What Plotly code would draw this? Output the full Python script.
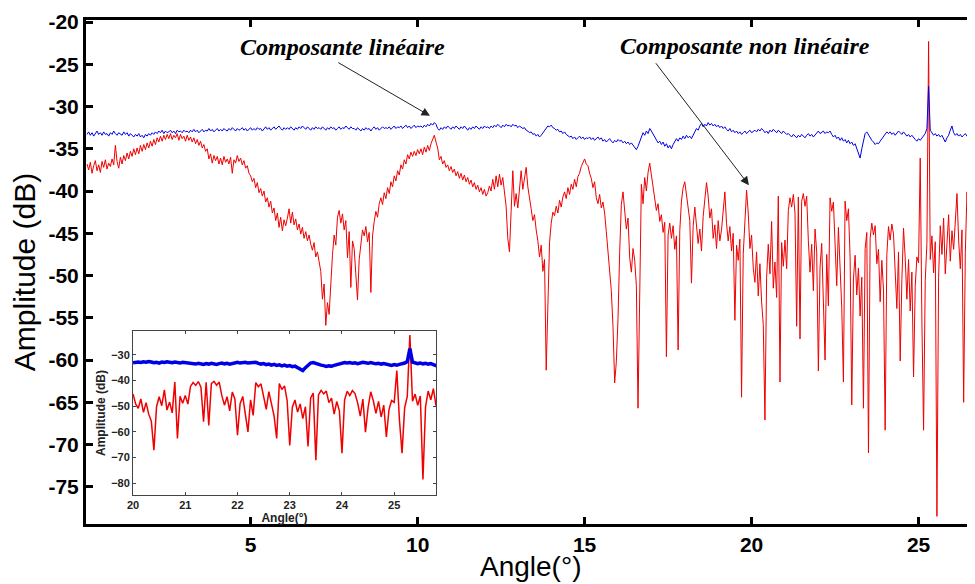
import numpy as np
import plotly.graph_objects as go

# échantillonnage en angle (deg)
angle_start = 0.10
angle_step = 0.05

# composante non linéaire (rouge), une ligne = 1 degré
red_db = [
    -36.8, -37.5, -36.6, -37.9, -37.0, -36.4, -37.6, -36.9, -37.8, -36.5, -37.2, -36.3, -37.4, -36.7, -37.1, -36.2, -36.9, -34.6, -36.5, -37.3,
    -36.0, -36.8, -35.8, -36.4, -35.5, -36.2, -35.3, -35.9, -35.0, -35.7, -34.9, -35.6, -34.6, -35.3, -34.5, -35.1, -34.3, -34.9, -34.1, -34.7,
    -33.9, -34.5, -33.7, -34.2, -33.5, -34.1, -33.4, -33.9, -33.3, -33.8, -33.2, -33.9, -33.4, -33.7, -33.2, -34.0, -33.3, -33.8, -33.5, -34.1,
    -33.4, -34.0, -33.6, -34.2, -33.7, -34.4, -33.9, -34.6, -34.1, -34.9, -34.5, -35.3, -35.0, -36.2, -35.6, -36.7, -35.8, -36.4, -35.9, -36.8,
    -36.1, -36.9, -35.9, -36.6, -36.2, -36.8, -36.0, -37.9, -36.3, -36.7, -35.8, -36.5, -36.1, -36.9, -36.4, -37.3, -37.0, -37.9, -38.2, -38.9,
    -38.5, -39.6, -39.0, -40.2, -39.7, -40.6, -40.0, -41.3, -40.8, -41.9, -41.2, -42.6, -42.0, -43.5, -42.6, -44.3, -43.1, -44.7, -43.4, -44.1,
    -43.2, -42.1, -43.8, -42.5, -44.0, -43.3, -44.6, -43.9, -45.1, -44.3, -45.6, -44.8, -45.9, -45.2, -46.3, -47.0, -46.1, -47.8, -47.2, -48.6,
    -49.5, -52.8, -51.0, -55.9, -53.2, -54.6, -50.3, -47.6, -45.2, -46.4, -43.1, -42.3, -43.8, -42.7, -44.6, -43.5, -47.9, -44.8, -51.4, -45.9,
    -46.8, -49.5, -52.9, -48.1, -45.9, -44.6, -45.3, -44.2, -46.0, -44.9, -52.0, -45.3, -43.6, -42.4, -43.1, -41.5, -40.8, -41.6, -40.2, -40.9,
    -39.6, -40.3, -38.9, -39.5, -38.2, -38.8, -37.6, -38.1, -36.9, -37.4, -36.3, -36.8, -35.7, -36.2, -35.4, -35.9, -35.3, -35.8, -35.1, -35.6,
    -35.0, -35.7, -34.8, -35.4, -34.6, -35.2, -34.4, -33.8, -33.4, -34.2, -34.9, -36.3, -35.9, -36.8, -36.4, -37.2, -36.9, -37.6, -37.1, -37.8,
    -37.4, -38.2, -37.7, -38.5, -37.9, -38.7, -38.1, -38.9, -38.4, -39.2, -38.7, -39.5, -39.0, -39.8, -39.3, -40.1, -39.6, -40.4, -39.8, -40.6,
    -40.2, -39.4, -40.0, -38.6, -39.8, -38.2, -39.5, -38.0, -39.3, -38.4, -40.1, -41.8, -45.6, -47.2, -42.4, -37.6, -41.8, -40.3, -42.0, -39.2,
    -37.6, -39.8, -38.4, -37.2, -39.5, -40.6, -42.1, -43.5, -42.8, -44.6, -45.9, -47.8, -46.4, -49.5, -48.1, -61.2, -52.4, -46.1, -43.8, -42.5,
    -42.9, -41.8, -42.6, -41.1, -41.9, -40.7, -40.1, -40.9, -39.6, -40.4, -39.2, -39.8, -38.6, -39.5, -38.3, -37.9, -37.1, -36.6, -36.2, -36.8,
    -37.0, -37.9, -38.5, -39.6, -38.9, -40.8, -41.5, -40.4, -42.0, -41.3, -42.6, -44.8, -46.9, -49.5, -51.8, -56.0, -62.7, -60.2, -55.1, -47.3,
    -41.6, -40.1, -42.8, -44.5, -43.2, -47.9, -49.6, -46.8, -48.2, -51.2, -65.7, -49.5, -39.2, -41.5, -38.4, -40.0, -37.8, -36.7, -38.1, -39.4,
    -40.8, -42.3, -41.5, -43.6, -42.8, -44.9, -43.7, -59.6, -45.2, -43.8, -45.6, -44.1, -46.9, -45.3, -58.8, -44.7, -41.2, -39.6, -38.9, -40.5,
    -41.8, -43.5, -50.9, -44.2, -41.9, -43.8, -46.2, -44.5, -47.1, -43.0, -41.2, -39.0, -40.6, -43.2, -42.1, -45.6, -44.0, -46.8, -43.5, -45.9,
    -44.6, -42.3, -40.1, -43.8, -45.9, -44.2, -47.1, -45.0, -55.3, -46.4, -48.2, -45.7, -64.4, -47.5, -43.2, -39.9, -42.6, -46.8, -45.2, -49.1,
    -50.8, -47.2, -52.4, -48.6, -53.1, -55.8, -67.1, -50.2, -46.3, -49.8, -43.6, -51.5, -48.4, -52.6, -40.6, -62.6, -46.1, -48.9, -45.8, -49.2,
    -42.3, -40.8, -41.9, -40.4, -42.6, -56.0, -40.7, -57.5, -41.2, -40.3, -41.8, -40.6, -45.9, -49.6, -46.3, -51.8, -44.5, -47.2, -61.3, -49.0,
    -46.2, -52.8, -60.0, -47.5, -53.6, -40.8, -42.4, -41.3, -45.7, -51.2, -44.3, -49.5, -53.8, -62.6, -41.2, -43.5, -42.1, -47.8, -65.3, -50.4,
    -47.6, -52.3, -49.1, -54.8, -50.2, -65.7, -46.8, -44.9, -71.0, -45.6, -43.8, -45.2, -44.1, -48.6, -46.9, -53.1, -48.2, -51.7, -68.3, -47.5,
    -44.2, -45.8, -43.9, -45.1, -48.7, -53.9, -47.2, -60.1, -50.5, -44.4, -47.9, -52.8, -48.1, -54.2, -49.6, -62.0, -51.3, -47.8, -48.5, -36.1,
    -55.4, -68.3, -50.6, -46.2, -22.3, -48.1, -45.3, -49.7, -46.0, -78.5, -50.2, -44.1, -47.5, -43.2, -49.8, -45.6, -42.8, -48.3, -44.7, -46.9,
    -43.5, -40.3, -45.8, -49.2, -44.6, -65.0, -47.3, -40.1, -43.9, -52.4, -60.8, -44.5, -46.2,
]

# composante linéaire (bleu), même échantillonnage
blue_db = [
    -33.3, -33.0, -33.4, -33.1, -33.5, -33.2, -32.9, -33.3, -33.1, -33.4, -33.0, -33.3, -33.2, -33.5, -33.1, -33.3, -32.9, -33.2, -33.4, -33.1,
    -33.2, -33.4, -33.0, -33.3, -33.1, -33.5, -33.2, -33.4, -33.6, -33.3, -33.5, -33.2, -33.6, -33.4, -33.7, -33.3, -33.5, -33.2, -33.4, -33.1,
    -33.3, -33.0, -33.2, -32.9, -33.1, -32.8, -33.2, -32.9, -33.1, -33.0, -32.8, -33.1, -32.9, -33.2, -32.8, -33.0, -32.9, -33.1, -32.8, -33.0,
    -32.9, -33.1, -32.8, -33.0, -32.7, -33.0, -32.8, -33.1, -32.9, -32.7, -33.0, -32.8, -32.9, -32.6, -32.9, -32.7, -33.0, -32.8, -32.6, -32.9,
    -32.7, -32.9, -32.6, -32.8, -32.9, -32.6, -32.8, -32.5, -32.7, -32.9, -32.6, -32.8, -32.7, -32.5, -32.8, -32.6, -32.9, -32.7, -32.5, -32.8,
    -32.6, -32.8, -32.5, -32.7, -32.6, -32.9, -32.6, -32.4, -32.7, -32.5, -32.8, -32.6, -32.4, -32.7, -32.5, -32.3, -32.6, -32.8, -32.5, -32.7,
    -32.5, -32.7, -32.4, -32.6, -32.8, -32.5, -32.7, -32.4, -32.6, -32.3, -32.5, -32.7, -32.4, -32.6, -32.8, -32.5, -32.7, -32.4, -32.6, -32.5,
    -32.7, -32.4, -32.6, -32.8, -32.5, -32.7, -32.4, -32.6, -32.5, -32.8, -32.6, -32.4, -32.7, -32.5, -32.6, -32.3, -32.5, -32.7, -32.4, -32.6,
    -32.6, -32.8, -32.5, -32.7, -32.9, -32.6, -32.8, -32.5, -32.7, -32.6, -32.9, -32.6, -32.4, -32.7, -32.5, -32.8, -32.6, -32.4, -32.6, -32.5,
    -32.6, -32.4, -32.7, -32.5, -32.3, -32.6, -32.4, -32.5, -32.3, -32.6, -32.4, -32.2, -32.5, -32.3, -32.6, -32.4, -32.2, -32.5, -32.3, -32.4,
    -32.3, -32.5, -32.2, -32.4, -32.1, -32.3, -32.0, -32.2, -31.9, -32.1, -32.6, -32.8, -32.5, -32.7, -32.4, -32.6, -32.3, -32.5, -32.7, -32.4,
    -32.6, -32.3, -32.5, -32.7, -32.4, -32.6, -32.3, -32.5, -32.8, -32.5, -32.7, -32.4, -32.6, -32.3, -32.5, -32.7, -32.4, -32.6, -32.3, -32.5,
    -32.4, -32.6, -32.3, -32.5, -32.2, -32.4, -32.1, -32.3, -32.5, -32.2, -32.4, -32.1, -32.3, -32.2, -32.4, -32.1, -32.3, -32.2, -32.5, -32.3,
    -32.4, -32.6, -32.5, -32.8, -32.9, -33.1, -33.0, -33.3, -33.2, -33.5, -33.3, -33.6, -33.4, -33.1, -32.8, -32.5, -32.3, -32.4, -32.2, -32.5,
    -32.6, -32.8, -32.7, -33.0, -32.9, -33.2, -33.0, -33.3, -33.4, -33.6, -33.5, -33.8, -33.6, -33.9, -33.7, -33.5, -33.8, -33.6, -33.9, -33.7,
    -33.8, -33.6, -33.9, -33.7, -34.0, -33.8, -33.6, -33.9, -33.7, -34.1, -33.9, -34.2, -34.0, -33.8, -34.1, -34.3, -34.0, -34.2, -33.9, -34.1,
    -34.0, -34.3, -34.1, -34.4, -34.2, -34.5, -34.3, -34.6, -34.8, -35.1, -34.7, -34.2, -33.6, -33.1, -33.4, -32.9, -33.2, -32.6, -32.9, -33.3,
    -33.6, -33.9, -34.3, -34.1, -34.5, -34.2, -34.7, -34.4, -34.9, -34.6, -35.0, -34.5, -34.2, -33.8, -34.1, -33.7, -33.9, -33.5, -33.8, -33.4,
    -33.7, -33.5, -33.8, -33.3, -33.0, -32.6, -32.8, -32.3, -32.0, -32.4, -32.1, -32.3, -31.9, -32.2, -32.0, -32.3, -32.1, -32.4, -32.2, -32.5,
    -32.3, -32.6, -32.4, -32.7, -32.9, -32.6, -33.0, -32.8, -33.1, -32.9, -33.2, -33.0, -33.3, -33.1, -32.9, -33.2, -33.0, -32.8, -33.1, -32.9,
    -32.8, -33.0, -32.7, -32.9, -32.6, -32.8, -33.1, -32.9, -33.2, -32.8, -33.0, -32.7, -32.9, -33.1, -32.8, -33.0, -33.2, -32.9, -33.1, -33.3,
    -33.2, -33.4, -33.6, -33.3, -33.5, -33.7, -33.4, -33.6, -33.3, -33.5, -33.7, -33.4, -33.2, -33.5, -33.3, -33.6, -33.4, -33.1, -32.9, -33.2,
    -33.0, -32.9, -33.2, -33.0, -33.1, -32.9, -33.3, -33.6, -33.4, -33.8, -33.6, -34.0, -33.7, -34.1, -33.9, -34.3, -34.0, -34.4, -34.2, -34.6,
    -34.4, -34.9, -35.6, -36.1, -35.0, -33.9, -33.2, -33.0, -33.4, -33.7, -34.0, -34.2, -34.5, -34.3, -34.4, -34.1, -33.8, -33.5, -33.3, -33.0,
    -33.2, -33.0, -33.3, -33.1, -33.4, -33.2, -32.9, -33.1, -33.3, -33.0, -33.2, -33.5, -33.3, -33.6, -33.4, -33.7, -33.9, -34.1, -33.8, -34.0,
    -33.7, -33.5, -33.2, -32.6, -27.6, -32.8, -33.1, -33.4, -33.2, -33.5, -33.3, -33.6, -33.4, -33.8, -34.2, -33.7, -33.4, -32.8, -32.3, -33.1,
    -33.4, -33.2, -33.5, -33.3, -33.6, -33.4, -33.2, -33.5, -33.3, -33.6, -33.4, -33.5, -33.3,
]

assert len(red_db) == len(blue_db)
angle = np.round(angle_start + angle_step * np.arange(len(red_db)), 2)

main_yticks = [-75, -70, -65, -60, -55, -50, -45, -40, -35, -30, -25, -20]
main_xticks = [5, 10, 15, 20, 25]
inset_yticks = [-80, -70, -60, -50, -40, -30]
inset_xticks = [20, 21, 22, 23, 24, 25]

zoom = (angle >= 20) & (angle <= 25.85)

font_main = "Liberation Sans"
font_note = "Liberation Serif"

fig = go.Figure()

# courbes principales
fig.add_trace(go.Scatter(x=angle, y=red_db, mode='lines',
                         line=dict(color='rgb(240,0,0)', width=1), xaxis='x', yaxis='y'))
fig.add_trace(go.Scatter(x=angle, y=blue_db, mode='lines',
                         line=dict(color='rgb(0,0,230)', width=1), xaxis='x', yaxis='y'))

# encart zoom 20-25.8°
fig.add_trace(go.Scatter(x=angle[zoom], y=np.array(red_db)[zoom], mode='lines',
                         line=dict(color='rgb(240,0,0)', width=1.5), xaxis='x2', yaxis='y2'))
fig.add_trace(go.Scatter(x=angle[zoom], y=np.array(blue_db)[zoom], mode='lines',
                         line=dict(color='rgb(0,0,230)', width=3.5), xaxis='x2', yaxis='y2'))

# trace vide pour l'axe du haut (cadre)
fig.add_trace(go.Scatter(x=[], y=[], xaxis='x3', yaxis='y', showlegend=False))

main_tickfont = dict(family=font_main, size=21, color='black', weight='bold')
inset_tickfont = dict(family=font_main, size=11, color='#222', weight='bold')
inset_titlefont = dict(family=font_main, size=12, color='#222', weight='bold')

fig.update_layout(
    template='none',
    width=975, height=584,
    # la page est décalée de 8 px (marge du body) -> marges compensées
    margin=dict(l=78, r=8, t=12, b=68, pad=0),
    plot_bgcolor='white', paper_bgcolor='white',
    showlegend=False,
    xaxis=dict(
        range=[0.07, 26.69], domain=[0, 1], automargin=False,
        tickmode='array', tickvals=main_xticks,
        ticktext=[f'<b>{v}</b>' for v in main_xticks],
        ticks='inside', ticklen=7, tickwidth=3, tickcolor='black',
        showline=True, linewidth=3, linecolor='black', mirror=True,
        showgrid=False, zeroline=False,
        tickfont=main_tickfont,
    ),
    xaxis3=dict(
        overlaying='x', matches='x', side='top', anchor='y', automargin=False,
        tickmode='array', tickvals=main_xticks, showticklabels=False,
        ticks='inside', ticklen=7, tickwidth=3, tickcolor='black',
        showline=True, linewidth=3, linecolor='black',
        showgrid=False, zeroline=False,
    ),
    yaxis=dict(
        range=[-79.4, -19.76], domain=[0, 1], automargin=False,
        tickmode='array', tickvals=main_yticks,
        ticktext=[f'<b>{v}</b>' for v in main_yticks],
        ticks='inside', ticklen=7, tickwidth=3, tickcolor='black',
        showline=True, linewidth=3, linecolor='black', mirror='ticks',
        showgrid=False, zeroline=False,
        tickfont=main_tickfont,
        title=dict(text='Amplitude (dB)', standoff=6,
                   font=dict(family=font_main, size=30, color='black')),
    ),
    xaxis2=dict(
        anchor='y2', domain=[0.0529, 0.3937], range=[20, 25.8], automargin=False,
        tickmode='array', tickvals=inset_xticks,
        ticks='inside', ticklen=3, tickwidth=1, tickcolor='#444',
        showline=True, linewidth=1, linecolor='#444', mirror='ticks',
        showgrid=False, zeroline=False,
        tickfont=inset_tickfont,
        title=dict(text='Angle(°)', standoff=0, font=inset_titlefont),
    ),
    yaxis2=dict(
        anchor='x2', domain=[0.0575, 0.383], range=[-84.6, -20.7], automargin=False,
        tickmode='array', tickvals=inset_yticks,
        ticks='inside', ticklen=3, tickwidth=1, tickcolor='#444',
        showline=True, linewidth=1, linecolor='#444', mirror='ticks',
        showgrid=False, zeroline=False,
        tickfont=inset_tickfont,
        title=dict(text='Amplitude (dB)', standoff=2, font=inset_titlefont),
    ),
    shapes=[dict(type='rect', xref='x2 domain', yref='y2 domain',
                 x0=0, x1=1, y0=0, y1=1, fillcolor='white',
                 line=dict(width=0), layer='below')],
)

# titre de l'axe x (placé à la main pour ne pas être coupé en bas)
fig.add_annotation(x=0.5, y=-0.085, xref='x domain', yref='y domain',
                   text='Angle(°)', showarrow=False, yanchor='middle',
                   font=dict(family=font_main, size=28, color='black'))

note_font = dict(family=font_note, size=24, color='black', style='italic', weight='bold')
fig.add_annotation(x=7.76, y=-22.96, xref='x', yref='y', text='Composante linéaire',
                   showarrow=False, font=note_font)
fig.add_annotation(x=19.80, y=-22.85, xref='x', yref='y', text='Composante non linéaire',
                   showarrow=False, font=note_font)
# flèches
fig.add_annotation(x=10.37, y=-31.1, ax=7.58, ay=-24.7, xref='x', yref='y',
                   axref='x', ayref='y', text='', showarrow=True,
                   arrowhead=2, arrowsize=1.7, arrowwidth=1, arrowcolor='#222')
fig.add_annotation(x=19.92, y=-39.3, ax=17.10, ay=-24.7, xref='x', yref='y',
                   axref='x', ayref='y', text='', showarrow=True,
                   arrowhead=2, arrowsize=1.7, arrowwidth=1, arrowcolor='#222')

fig.write_html("out.html")
